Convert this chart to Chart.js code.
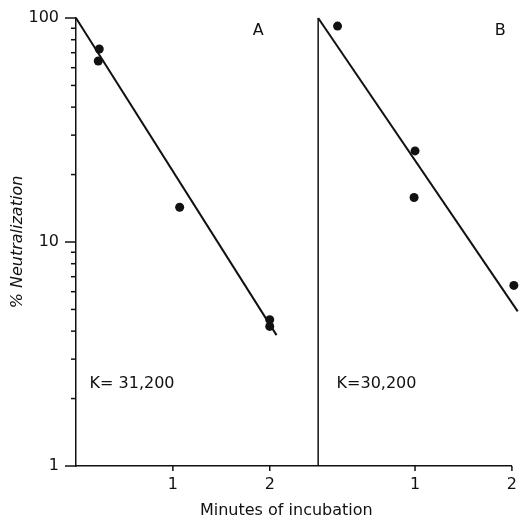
<!DOCTYPE html>
<html>
<head>
<meta charset="utf-8">
<script src="https://cdn.jsdelivr.net/npm/chart.js@4/dist/chart.umd.min.js"></script>
<style>
  html, body { margin: 0; padding: 0; background: #fff; }
</style>
</head>
<body>
<canvas id="myChart" width="526" height="519"></canvas>
<script>
// panel A: measured points and fitted line (minutes, % neutralization)
const panelA_x = [0.24, 0.23, 1.07, 2.0, 2.0];
const panelA_y = [72.7, 64.3, 14.3, 4.5, 4.2];
const panelA_fitX = [0, 2.07];
const panelA_fitY = [100, 3.84];

// panel B
const panelB_x = [0.2, 1.0, 0.99, 2.02];
const panelB_y = [92, 25.5, 15.8, 6.4];
const panelB_fitX = [0, 2.06];
const panelB_fitY = [100, 4.9];

const panelNames = ['A', 'B'];
const kTexts = ['K= 31,200', 'K=30,200'];
const xTickValues = [1, 2];
const yLabelValues = [1, 10, 100];

// panel B starts where panel A's axis ends
const panelSpan = 2.5;
const ink = '#111';

const toPoints = (xs, ys, shift) => xs.map((x, i) => ({x: x + shift, y: ys[i]}));

const dotStyle = {
    showLine: false,
    pointRadius: 4.5,
    pointBackgroundColor: ink,
    pointBorderWidth: 0,
    clip: false
};
const fitStyle = {
    showLine: true,
    borderColor: ink,
    borderWidth: 2,
    pointRadius: 0,
    fill: false,
    clip: false
};

const decor = {
    id: 'decor',
    afterDraw(chart) {
        const {ctx, chartArea} = chart;
        const xs = chart.scales.x, ys = chart.scales.y;
        ctx.save();
        ctx.strokeStyle = ink;
        ctx.lineWidth = 1.5;
        // y ticks, long ones at labelled decades
        ys.ticks.forEach(t => {
            const y = ys.getPixelForValue(t.value);
            const len = yLabelValues.includes(t.value) ? 11 : 5;
            ctx.beginPath();
            ctx.moveTo(chartArea.left - len, y);
            ctx.lineTo(chartArea.left, y);
            ctx.stroke();
        });
        // x ticks downward
        xs.ticks.forEach(t => {
            const x = xs.getPixelForValue(t.value);
            ctx.beginPath();
            ctx.moveTo(x, chartArea.bottom);
            ctx.lineTo(x, chartArea.bottom + 5);
            ctx.stroke();
        });
        // divider between the panels
        const xd = xs.getPixelForValue(panelSpan);
        ctx.beginPath();
        ctx.moveTo(xd, ys.getPixelForValue(100));
        ctx.lineTo(xd, chartArea.bottom);
        ctx.stroke();

        // panel letters and rate constants
        ctx.fillStyle = ink;
        ctx.textBaseline = 'middle';
        ctx.font = '16px "DejaVu Sans"';
        ctx.textAlign = 'center';
        panelNames.forEach((name, i) => {
            ctx.fillText(name, xs.getPixelForValue(1.88 + i * panelSpan), ys.getPixelForValue(88));
        });
        ctx.textAlign = 'left';
        const kX = [0.14, 0.19];
        kTexts.forEach((txt, i) => {
            ctx.fillText(txt, xs.getPixelForValue(kX[i] + i * panelSpan), ys.getPixelForValue(2.32));
        });
        ctx.restore();
    }
};

new Chart(document.getElementById('myChart'), {
    type: 'scatter',
    data: {
        datasets: [
            {label: 'A fit', data: toPoints(panelA_fitX, panelA_fitY, 0), ...fitStyle},
            {label: 'B fit', data: toPoints(panelB_fitX, panelB_fitY, panelSpan), ...fitStyle},
            {label: 'A', data: toPoints(panelA_x, panelA_y, 0), ...dotStyle},
            {label: 'B', data: toPoints(panelB_x, panelB_y, panelSpan), ...dotStyle}
        ]
    },
    options: {
        responsive: false,
        animation: false,
        layout: {padding: {top: 18, right: 13, left: 0, bottom: 0}},
        plugins: {legend: {display: false}, tooltip: {enabled: false}},
        scales: {
            x: {
                type: 'linear',
                min: 0,
                max: panelSpan + 2,
                afterBuildTicks: (scale) => {
                    scale.ticks = xTickValues.concat(xTickValues.map(v => v + panelSpan))
                        .map(v => ({value: v}));
                },
                afterFit: (scale) => { scale.height = 53; },
                grid: {display: false, drawTicks: false},
                border: {display: true, color: ink, width: 1.5},
                ticks: {
                    color: ink,
                    font: {family: 'DejaVu Sans', size: 16},
                    padding: 9,
                    autoSkip: false,
                    maxRotation: 0,
                    callback: (v) => String(Math.round((v > panelSpan ? v - panelSpan : v) * 10) / 10)
                },
                title: {
                    display: true,
                    text: 'Minutes of incubation' + '\u00a0'.repeat(3),
                    color: ink,
                    font: {family: 'DejaVu Sans', size: 16, lineHeight: 1},
                    padding: {top: 0, bottom: 0}
                }
            },
            y: {
                type: 'logarithmic',
                min: 1,
                max: 100,
                afterBuildTicks: (scale) => {
                    const t = [];
                    for (let d = 1; d < 100; d *= 10) {
                        for (let m = 1; m < 10; m++) t.push({value: m * d});
                    }
                    t.push({value: 100});
                    scale.ticks = t;
                },
                afterFit: (scale) => {
                    scale.width = 76;
                    // let layout.padding alone decide the top edge
                    scale.paddingTop = 0;
                    scale.paddingBottom = 0;
                },
                grid: {display: false, drawTicks: false},
                border: {display: true, color: ink, width: 1.5},
                ticks: {
                    color: ink,
                    font: {family: 'DejaVu Sans', size: 16},
                    padding: 17,
                    autoSkip: false,
                    callback: (v) => yLabelValues.includes(v) ? String(v) : ''
                },
                title: {
                    display: true,
                    text: '% Neutralization',
                    color: ink,
                    font: {family: 'DejaVu Sans', size: 16, style: 'italic', lineHeight: 1},
                    padding: {top: 10, bottom: 0}
                }
            }
        }
    },
    plugins: [decor]
});
</script>
</body>
</html>
